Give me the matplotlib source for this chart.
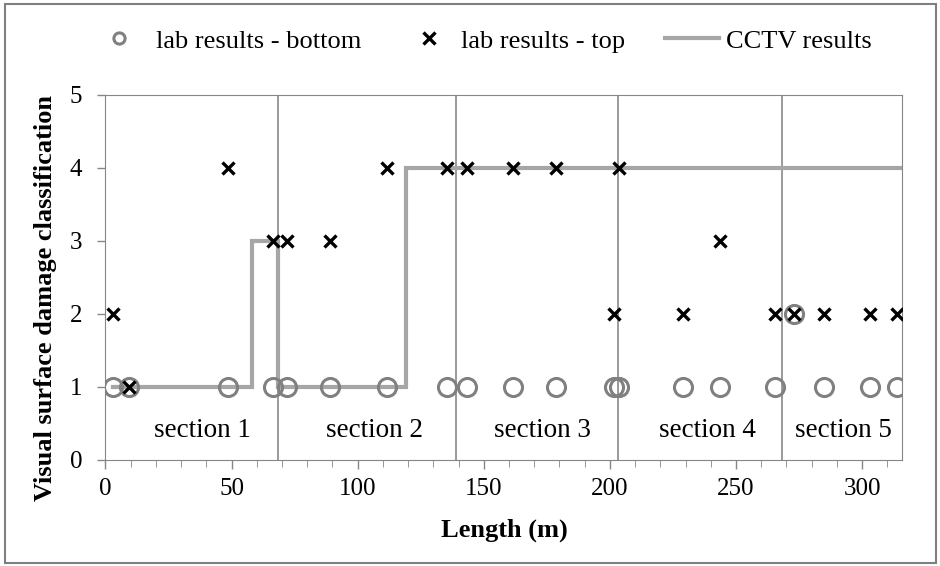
import matplotlib
matplotlib.use("Agg")
from matplotlib import pyplot as plt
from matplotlib.patches import Rectangle
from matplotlib.ticker import MultipleLocator

plt.rcParams['font.family'] = ['Liberation Serif', 'DejaVu Serif']

## sample positions (m) and lab classifications
sample_x = [3.0, 9.5, 48.7, 66.3, 72.1, 89.0, 111.6, 135.6, 143.2, 161.6,
            178.5, 201.8, 203.8, 228.8, 243.5, 265.6, 272.9, 285.0, 303.1, 314.0]
lab_top = [2, 1, 4, 3, 3, 3, 4, 4, 4, 4, 4, 2, 4, 2, 3, 2, 2, 2, 2, 2]
lab_bottom = [1, 1, 1, 1, 1, 1, 1, 1, 1, 1, 1, 1, 1, 1, 1, 1, 2, 1, 1, 1]

## CCTV step profile
cctv_x = [3, 58.1, 58.1, 68.4, 68.4, 119.0, 119.0, 316]
cctv_y = [1, 1, 3, 3, 1, 1, 4, 4]

## section boundaries and labels
section_bounds = [68.4, 138.9, 203.3, 268.4]
section_names = ['section 1', 'section 2', 'section 3', 'section 4', 'section 5']
section_centres = [38.4, 106.5, 173.3, 238.8, 292.5]

fig = plt.figure(figsize=(9.4, 5.66), dpi=100)
ax = fig.add_axes([0.1122, 0.1873, 0.8479, 0.6449])

for xb in section_bounds:
    ax.axvline(xb, color='#7f7f7f', lw=1.1, zorder=1)

cctv, = ax.plot(cctv_x, cctv_y, color='#a6a6a6', lw=3.0, solid_joinstyle='miter',
                zorder=2)
bottom, = ax.plot(sample_x, lab_bottom, 'o', ms=13, mfc='none', mec='#808080', mew=2.2,
                  zorder=3)
top, = ax.plot(sample_x, lab_top, 'x', ms=8, color='black', mew=2.4, zorder=4)

for name, xc in zip(section_names, section_centres):
    ax.text(xc, 0.31, name, ha='center', va='baseline', fontsize=19.5)

ax.set_xlim(0, 316)
ax.set_ylim(0, 5)
ax.xaxis.set_major_locator(MultipleLocator(50))
ax.xaxis.set_minor_locator(MultipleLocator(10))
ax.yaxis.set_major_locator(MultipleLocator(1))
ax.tick_params(axis='both', which='major', labelsize=18, direction='out',
               color='#868686', width=1.0)
ax.tick_params(axis='x', which='major', length=6.5, pad=6.5)
ax.tick_params(axis='x', which='minor', direction='out', color='#868686', length=5)
ax.tick_params(axis='y', which='major', length=5.8, pad=11)
for s in ax.spines.values():
    s.set_color('#868686')

ax.set_xlabel('Length (m)', fontsize=19, fontweight='bold', va='center')
ax.xaxis.set_label_coords(0.5, -0.192)
ax.set_ylabel('Visual surface damage classification', fontsize=19,
              fontweight='bold', va='center')
ax.yaxis.set_label_coords(-0.0747, 0.444)

## legend: three entries placed along the top like the original
leg_handles = [bottom, top, cctv]
leg_labels = ['lab results - bottom', 'lab results - top', 'CCTV results']
leg_x = [0.1128, 0.4426, 0.7074]
leg_hlen = [1.0, 1.0, 2.06]
leg_pad = [0.9, 0.7, 0.27]
leg_scale = [0.62, 1.0, 1.0]
for hd, lb, x0, hl, hp, sc in zip(leg_handles, leg_labels, leg_x, leg_hlen, leg_pad, leg_scale):
    lg = fig.legend([hd], [lb], loc='center left', bbox_to_anchor=(x0, 0.9276),
                    frameon=False, fontsize=19, borderpad=0, borderaxespad=0,
                    handlelength=hl, handletextpad=hp, markerscale=sc)

fig.patches.append(Rectangle((0.005, 0.006), 0.991, 0.987, transform=fig.transFigure,
                             fill=False, edgecolor='#7f7f7f', lw=1.5))

fig.savefig('out.png', dpi=100)
